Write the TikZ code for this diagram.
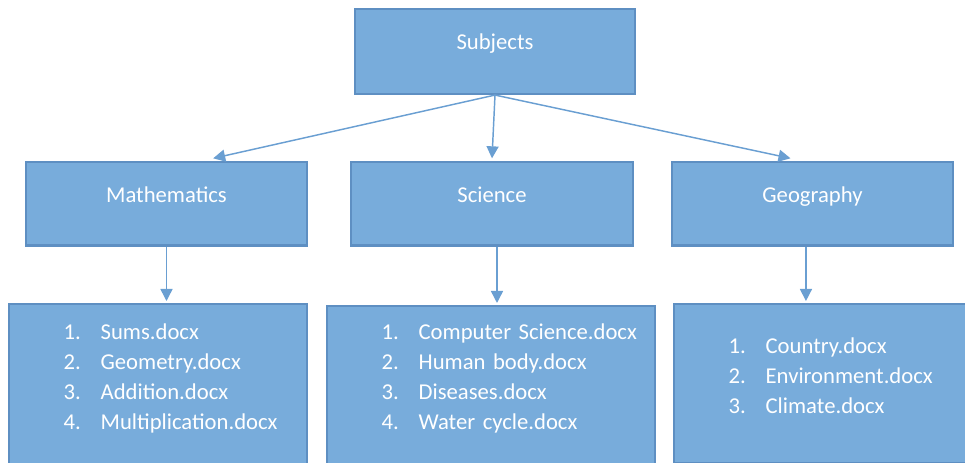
\documentclass[tikz,border=0pt]{standalone}
\usepackage{fontspec}
\setmainfont{Carlito}
\usetikzlibrary{arrows.meta}
\definecolor{boxfill}{HTML}{78ACDB}
\definecolor{boxline}{HTML}{5E8FC2}
\definecolor{arrowblue}{HTML}{6A9FD2}
\newcommand{\docitem}[2]{\hspace*{41pt}\makebox[27.75pt][l]{#1}#2}

\begin{document}
\begin{tikzpicture}[x=0.75pt,y=-0.75pt,
    every node/.style={font=\fontsize{17}{22.5}\selectfont, text=white},
    box/.style={draw=boxline, line width=1.8pt, fill=boxfill, inner sep=0pt, anchor=north},
    head/.style={box, minimum width=#1, text height=30.5pt, text depth=32pt},
    list/.style={box, text width=#1, align=left},
    link/.style={draw=arrowblue, line width=1.1pt, -{Triangle[width=9pt,length=9pt]}}]
    \useasboundingbox (0,0) rectangle (965,463);
    \clip (0,0) rectangle (965,463);
    % top level
    \node[head=210pt, text depth=33pt] (subj) at (495,8) {Subjects};
    % subjects
    \node[head=210.75pt] (math) at (166.5,161) {Mathematics};
    \node[head=211.5pt] (sci) at (492,161) {Science};
    \node[head=210.75pt] (geo) at (812.5,161) {Geography};
    % files
    \node[list=223.5pt, text height=26.25pt, text depth=99pt] (mathlist) at (158,303)
        {\docitem{1.}{Sums.docx}\\ \docitem{2.}{Geometry.docx}\\
         \docitem{3.}{Addition.docx}\\ \docitem{4.}{Multiplication.docx}};
    \node[list=246pt, text height=24.75pt, text depth=99pt] (scilist) at (491,305)
        {\docitem{1.}{Computer Science.docx}\\ \docitem{2.}{Human body.docx}\\
         \docitem{3.}{Diseases.docx}\\ \docitem{4.}{Water cycle.docx}};
    \node[list=222pt, text height=36.75pt, text depth=82.5pt] (geolist) at (822,303)
        {\docitem{1.}{Country.docx}\\ \docitem{2.}{Environment.docx}\\
         \docitem{3.}{Climate.docx}};
    \draw[link] (subj.south) -- ([xshift=35pt,yshift=2pt]math.north);
    \draw[link] (subj.south) -- ([yshift=2pt]sci.north);
    \draw[link] (subj.south) -- ([xshift=-16.5pt,yshift=2pt]geo.north);
    \draw[link] (math.south) -- ([yshift=1.5pt]math.south |- mathlist.north);
    \draw[link] ([xshift=3.75pt]sci.south) -- ([xshift=3.75pt,yshift=1.5pt]sci.south |- scilist.north);
    \draw[link] ([xshift=-4.9pt]geo.south) -- ([xshift=-4.9pt,yshift=1.5pt]geo.south |- geolist.north);
\end{tikzpicture}
\end{document}
